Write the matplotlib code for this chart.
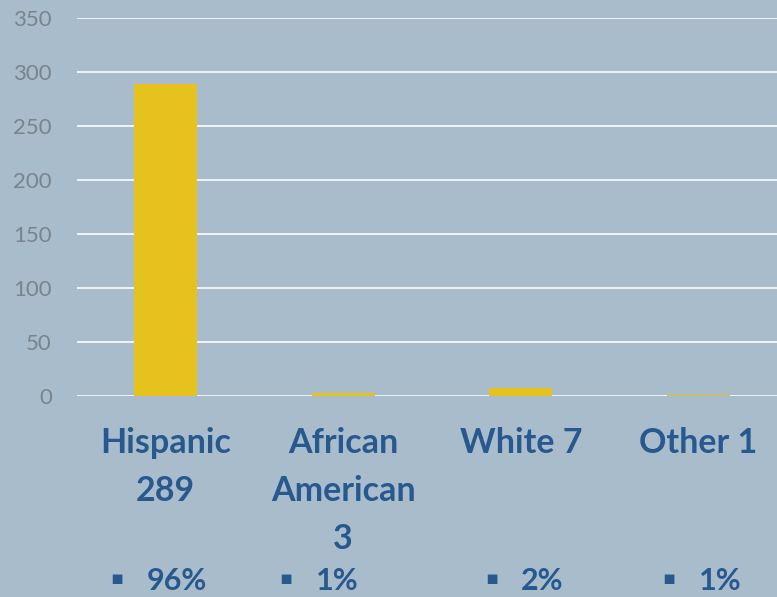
import matplotlib
matplotlib.use("Agg")
import matplotlib.pyplot as plt

categories = ["Hispanic\n289", "African\nAmerican\n3", "White 7", "Other 1"]
values = [289, 3, 7, 1]
percents = ["96%", "1%", "2%", "1%"]
yticks = [0, 50, 100, 150, 200, 250, 300, 350]

BG = "#a9bccb"
BAR = "#e6c21e"
LABEL = "#27598f"
TICK = "#79848c"

fig = plt.figure(figsize=(7.77, 5.97), dpi=100, facecolor=BG)
# axes spans pixel x 77..787, y 18..396 (from top)
W, H = 777, 597
ax = fig.add_axes([77 / W, (H - 396) / H, 710 / W, 378 / H])
ax.set_facecolor(BG)

x = list(range(len(values)))
ax.bar(x, values, width=0.355, color=BAR, zorder=3)
ax.set_xlim(-0.5, len(values) - 0.5)
ax.set_ylim(0, 350)
ax.set_yticks(yticks)
ax.yaxis.grid(True, color="white", linewidth=1.3, alpha=0.9, zorder=1)
ax.set_axisbelow(True)
for s in ax.spines.values():
    s.set_visible(False)
ax.tick_params(axis="y", length=0, pad=18, labelsize=16, labelcolor=TICK)
for lbl in ax.get_yticklabels():
    lbl.set_family("Lato")

ax.set_xticks(x)
ax.set_xticklabels(categories, fontsize=24.5, fontweight="bold", color=LABEL,
                   family="Lato", linespacing=1.62)
ax.tick_params(axis="x", length=0, pad=22)

pct_x = [177, 337, 542, 720]
bul_x = [117, 286, 492, 669]
for px, bx, p in zip(pct_x, bul_x, percents):
    fig.text(px / W, (H - 581) / H, p, ha="center", va="center", fontsize=22,
             fontweight="bold", color=LABEL, family="Lato")
    fig.text(bx / W, (H - 579) / H, "\u25aa", ha="center", va="center", fontsize=14,
             color=LABEL, family="DejaVu Sans")

fig.savefig("out.png", dpi=100, facecolor=BG)
